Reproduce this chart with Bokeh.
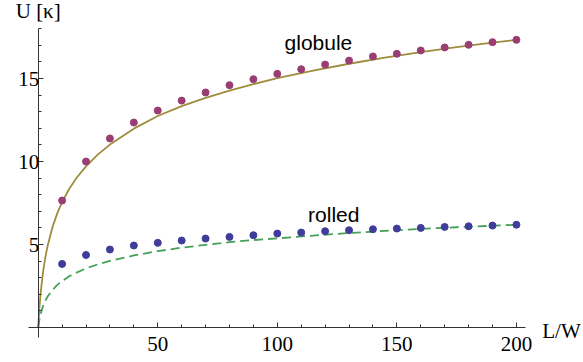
from bokeh.plotting import figure
from bokeh.models import FixedTicker, Label, Range1d
from bokeh.embed import file_html
from bokeh.resources import INLINE
from bokeh.core.properties import value

# ---- data ----
L_points = [10, 20, 30, 40, 50, 60, 70, 80, 90, 100,
            110, 120, 130, 140, 150, 160, 170, 180, 190, 200]
globule_U = [7.65, 10.0, 11.39, 12.35, 13.07, 13.67, 14.16, 14.6, 14.96, 15.28,
             15.56, 15.84, 16.08, 16.33, 16.49, 16.69, 16.87, 17.03, 17.19, 17.33]
rolled_U = [3.83, 4.37, 4.70, 4.94, 5.10, 5.24, 5.36, 5.46, 5.56, 5.66,
            5.72, 5.80, 5.86, 5.92, 5.96, 6.00, 6.06, 6.10, 6.14, 6.19]

L_curve = [0, 0.5, 1, 2, 3, 4, 6, 8, 10, 13, 16, 20, 25, 30, 40, 50, 60, 70,
           80, 90, 100, 115, 130, 145, 160, 175, 190, 200]
globule_fit = [0, 1.18, 2.05, 3.32, 4.24, 4.96, 6.06, 6.89, 7.56, 8.36, 9.01,
               9.71, 10.43, 11.02, 11.98, 12.74, 13.34, 13.83, 14.27, 14.66,
               15.02, 15.48, 15.89, 16.26, 16.59, 16.89, 17.16, 17.33]
rolled_fit = [0, 0.47, 0.81, 1.28, 1.62, 1.88, 2.27, 2.57, 2.80, 3.09, 3.31,
              3.56, 3.81, 4.01, 4.34, 4.60, 4.81, 4.98, 5.14, 5.27, 5.37,
              5.54, 5.69, 5.82, 5.94, 6.04, 6.13, 6.19]

x_major = [50, 100, 150, 200]
x_minor = [10, 20, 30, 40, 60, 70, 80, 90, 110, 120, 130, 140, 160, 170, 180, 190]
y_major = [5, 10, 15]
y_minor = [1, 2, 3, 4, 6, 7, 8, 9, 11, 12, 13, 14, 16, 17, 18]

gold = "#9E8D3C"
green = "#45A058"
magenta = "#993D74"
blue = "#3F3D99"

p = figure(width=583, height=362,
           x_range=Range1d(-15.77, 228.06), y_range=Range1d(-2.108, 19.70),
           output_backend="svg", toolbar_location=None,
           min_border_left=0, min_border_right=0,
           min_border_top=0, min_border_bottom=0)
p.title.visible = False
p.grid.visible = False
p.outline_line_color = None
p.background_fill_color = "white"
p.border_fill_color = "white"

p.xaxis.fixed_location = 0
p.yaxis.fixed_location = 0
p.xaxis.bounds = (-4, 204)
p.yaxis.bounds = (-0.6, 18)
p.xaxis.ticker = FixedTicker(ticks=x_major, minor_ticks=x_minor)
p.yaxis.ticker = FixedTicker(ticks=y_major, minor_ticks=y_minor)
for ax in (p.xaxis, p.yaxis):
    ax.axis_line_color = "#333333"
    ax.axis_line_width = 1
    ax.major_tick_line_color = "#333333"
    ax.minor_tick_line_color = "#333333"
    ax.major_tick_in = 5
    ax.major_tick_out = 0
    ax.minor_tick_in = 3
    ax.minor_tick_out = 0
    ax.major_label_text_font = "Liberation Serif"
    ax.major_label_text_font_size = "21px"
    ax.major_label_text_color = "black"
p.xaxis.major_label_standoff = 9
p.yaxis.major_label_standoff = -1

p.line(L_curve, globule_fit, line_color=gold, line_width=1.8)
p.line(L_curve, rolled_fit, line_color=green, line_width=1.8, line_dash="9 5")
p.scatter(L_points, globule_U, size=7, fill_color=magenta, line_color=magenta)
p.scatter(L_points, rolled_U, size=7, fill_color=blue, line_color=blue)

p.text(x=[117.2], y=[17.14], text=["globule"], text_align="center",
       text_baseline="alphabetic", text_font=value("Liberation Sans"),
       text_font_size="21px", text_color="black")
p.text(x=[123.6], y=[6.79], text=["rolled"], text_align="center",
       text_baseline="alphabetic", text_font=value("Liberation Sans"),
       text_font_size="21px", text_color="black")

p.add_layout(Label(x=0, y=19.04, text="U [κ]", text_align="center",
                   text_baseline="alphabetic", text_font="Liberation Serif",
                   text_font_size="21px", text_color="black"))
p.add_layout(Label(x=210.8, y=-0.24, text="L/W", text_align="left",
                   text_baseline="alphabetic", text_font="Liberation Serif",
                   text_font_size="21px", text_color="black"))

open("out.html", "w").write(file_html(p, INLINE))
